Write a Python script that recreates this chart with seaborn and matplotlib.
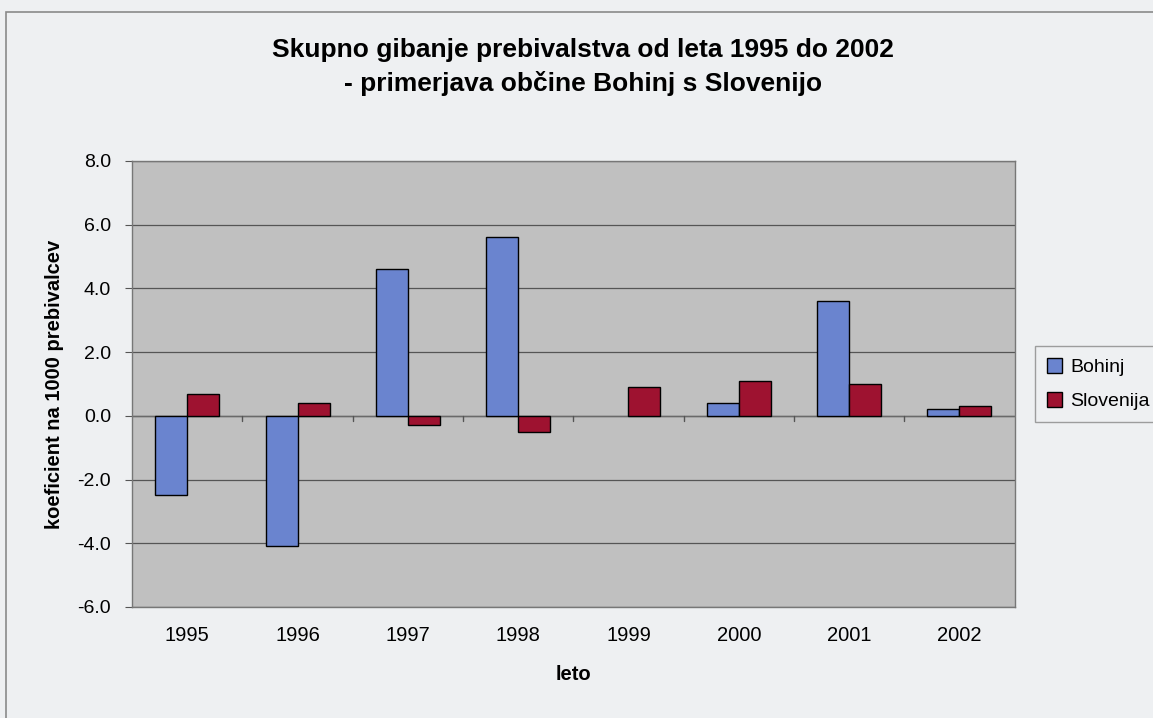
import matplotlib.pyplot as plt
import seaborn as sns
import pandas as pd
import numpy as np

years = ['1995', '1996', '1997', '1998', '1999', '2000', '2001', '2002']
bohinj = [-2.5, -4.1, 4.6, 5.6, 0.0, 0.4, 3.6, 0.2]
slovenija = [0.7, 0.4, -0.3, -0.5, 0.9, 1.1, 1.0, 0.3]
y_ticks = [-6.0, -4.0, -2.0, 0.0, 2.0, 4.0, 6.0, 8.0]

df = pd.DataFrame({
    'leto': years * 2,
    'vrednost': bohinj + slovenija,
    'serija': ['Bohinj'] * len(years) + ['Slovenija'] * len(years),
})

sns.set_style('white')
plt.rcParams['font.family'] = ['Liberation Sans', 'DejaVu Sans']
plt.rcParams['text.color'] = 'black'
plt.rcParams['axes.labelcolor'] = 'black'
plt.rcParams['xtick.color'] = 'black'
plt.rcParams['ytick.color'] = 'black'

fig = plt.figure(figsize=(11.53, 7.18), dpi=100, facecolor='#eef0f2')
ax = fig.add_axes([0.1145, 0.1546, 0.7655, 0.6212])
ax.set_facecolor('#c0c0c0')

# outer chart border
fig.patches.append(plt.Rectangle((0.005, -0.01), 1.1, 0.993, transform=fig.transFigure,
                                 fill=False, edgecolor='#8a8a8a', linewidth=1.2))

palette = {'Bohinj': '#6a84cf', 'Slovenija': '#9e1230'}
sns.barplot(data=df, x='leto', y='vrednost', hue='serija', palette=palette,
            width=0.58, edgecolor='black', linewidth=1.0, saturation=1,
            ax=ax, zorder=3)
# zero-height bars are not drawn in the original
for p in ax.patches:
    if abs(p.get_height()) < 1e-9:
        p.set_linewidth(0)

ax.set_ylim(-6, 8)
ax.set_xlim(-0.5, len(years) - 0.5)
ax.set_yticks(y_ticks)
ax.set_yticklabels([f'{t:.1f}' for t in y_ticks], fontsize=14)
ax.tick_params(axis='x', labelsize=14.5, length=0, pad=14)
ax.tick_params(axis='y', length=5, color='#555555', direction='out', left=True, pad=10)
for t in y_ticks:
    ax.axhline(t, color='#555555', linewidth=0.9, zorder=1)
ax.axhline(0, color='#6a6a6a', linewidth=1.0, zorder=2)
# category separator ticks on zero line
for i in range(1, len(years)):
    ax.plot([i - 0.5, i - 0.5], [0, -0.15], color='#555555', linewidth=1.0, zorder=2)

for s in ax.spines.values():
    s.set_color('#777777')
    s.set_linewidth(1.0)

ax.set_xlabel('leto', fontsize=14.5, fontweight='bold', labelpad=14)
ax.set_ylabel('koeficient na 1000 prebivalcev', fontsize=14.5, fontweight='bold', labelpad=10)
fig.text(0.506, 0.907, 'Skupno gibanje prebivalstva od leta 1995 do 2002\n- primerjava občine Bohinj s Slovenijo',
         ha='center', va='center', fontsize=19, fontweight='bold', linespacing=1.45)

leg = ax.legend(loc='center left', bbox_to_anchor=(1.012, 0.5), fontsize=14,
                frameon=True, fancybox=False, edgecolor='#888888', facecolor='#eef0f2',
                handlelength=0.8, handleheight=0.8, handletextpad=0.4, labelspacing=0.8,
                borderpad=0.6, title=None)
for h in leg.legend_handles:
    h.set_edgecolor('black')
    h.set_linewidth(1.0)

fig.savefig('out.png', dpi=100, facecolor=fig.get_facecolor())
